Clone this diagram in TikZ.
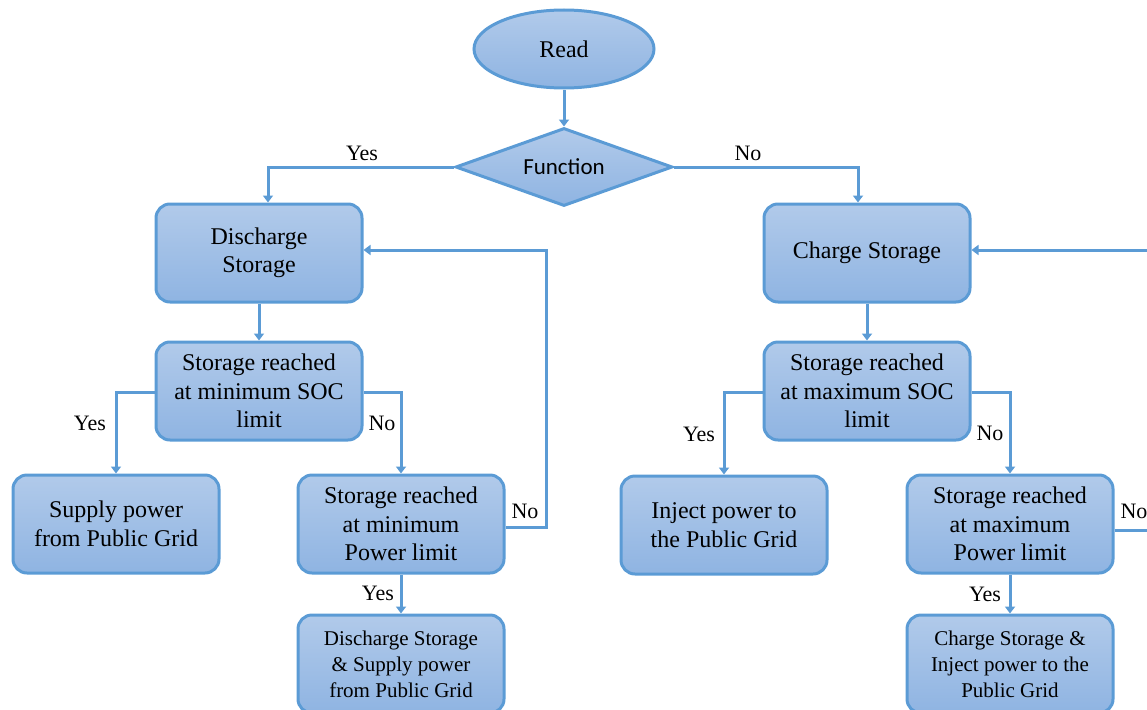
\documentclass[tikz,border=0pt]{standalone}
\usepackage{fontspec}
\setmainfont{Liberation Serif}
\newfontfamily\tnr{Liberation Serif}
\newfontfamily\calib{Carlito}
\usetikzlibrary{shapes.geometric,arrows.meta}
\definecolor{edge}{HTML}{5B9BD5}
\definecolor{filltop}{HTML}{B1CAEA}
\definecolor{fillbot}{HTML}{8FB4E2}
\tikzset{
  x=1pt, y=-1pt,
  shaded/.style={draw=edge, line width=3pt, top color=filltop, bottom color=fillbot, inner sep=0pt},
  stepbox/.style={shaded, rectangle, rounded corners=14pt, minimum width=206pt, minimum height=98pt,
    align=center, font=\tnr\fontsize{24}{28.5}\selectfont},
  smallbox/.style={stepbox, font=\tnr\fontsize{21}{26}\selectfont},
  startnode/.style={shaded, ellipse, minimum width=180pt, minimum height=78pt, font=\tnr\fontsize{24}{28}\selectfont},
  decide/.style={shaded, diamond, minimum width=217pt, minimum height=78pt, shape aspect=2.78,
    font=\calib\fontsize{23}{27}\selectfont},
  flow/.style={draw=edge, line width=3pt, -{Triangle[width=10pt,length=7pt]}},
  lbl/.style={font=\tnr\fontsize{22}{26}\selectfont, inner sep=0pt}
}
\begin{document}
\begin{tikzpicture}
\useasboundingbox (0,0) rectangle (1147,709);
\clip (0,0) rectangle (1147,709);

% start and decision
\node[startnode] (rd) at (564,49) {Read};
\node[decide] (fn) at (564,167) {Function};

% discharge branch
\node[stepbox] (dis) at (259,253) {Discharge\\Storage};
\node[stepbox] (smin) at (259,391) {Storage reached\\at minimum SOC\\limit};
\node[stepbox] (sup) at (116,524) {Supply power\\from Public Grid};
\node[stepbox] (pmin) at (401,524) {Storage reached\\at minimum\\Power limit};
\node[smallbox] (dsup) at (401,664) {Discharge Storage\\\& Supply power\\from Public Grid};

% charge branch
\node[stepbox] (chg) at (867,253) {Charge Storage};
\node[stepbox] (smax) at (867,391) {Storage reached\\at maximum SOC\\limit};
\node[stepbox] (inj) at (724,525) {Inject power to\\the Public Grid};
\node[stepbox] (pmax) at (1010,524) {Storage reached\\at maximum\\Power limit};
\node[smallbox] (cinj) at (1010,664) {Charge Storage \&\\Inject power to the\\Public Grid};

% connectors
\draw[flow] (rd) -- (fn);
\draw[flow] (fn.west) -| ([xshift=9pt]dis.north);
\draw[flow] (fn.east) -| ([xshift=-9pt]chg.north);

\draw[flow] (dis) -- (smin);
\draw[flow] ([yshift=-1pt]smin.west) -| (sup.north);
\draw[flow] ([yshift=-1pt]smin.east) -| (pmin.north);
\draw[flow] ([yshift=-3pt]pmin.east) -- ++(41,0) |- ([yshift=3pt]dis.east);
\draw[flow] (pmin) -- (dsup);

\draw[flow] (chg) -- (smax);
\draw[flow] ([yshift=-1pt]smax.west) -| (inj.north);
\draw[flow] ([yshift=-1pt]smax.east) -| (pmax.north);
\draw[flow] ([yshift=-6pt]pmax.east) -- ++(45,0) |- ([yshift=3pt]chg.east);
\draw[flow] (pmax) -- (cinj);

% branch labels
\node[lbl] (y1) at (362,153) {Yes};
\node[lbl] (n1) at (748,153) {No};
\node[lbl] (y2) at (90,423) {Yes};
\node[lbl] (n2) at (382,423) {No};
\node[lbl] (n3) at (525,511) {No};
\node[lbl] (y3) at (378,593) {Yes};
\node[lbl] (y4) at (699,434) {Yes};
\node[lbl] (n4) at (990,433) {No};
\node[lbl] (n5) at (1134,511) {No};
\node[lbl] (y5) at (985,594) {Yes};
\end{tikzpicture}
\end{document}
